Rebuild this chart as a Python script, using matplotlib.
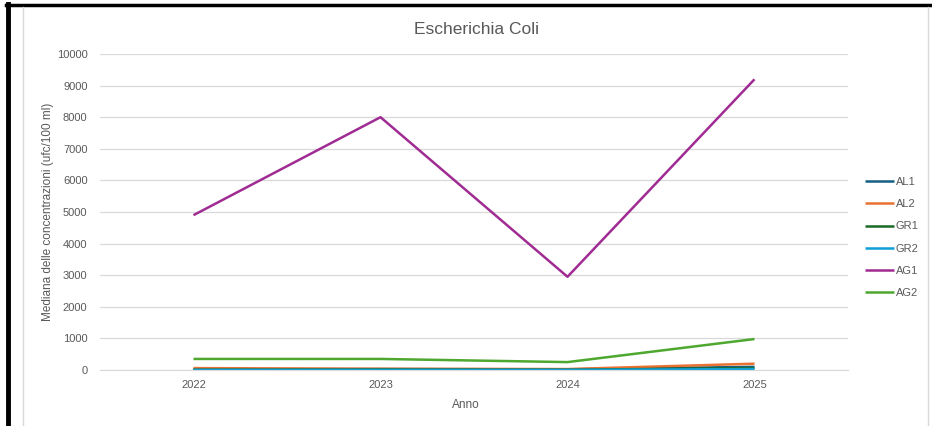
import matplotlib
matplotlib.use("Agg")
import matplotlib.pyplot as plt
from matplotlib.lines import Line2D

years = ["2022", "2023", "2024", "2025"]
series_names = ["AL1", "AL2", "GR1", "GR2", "AG1", "AG2"]
AL1 = [20, 30, 20, 100]
AL2 = [60, 40, 30, 200]
GR1 = [10, 20, 10, 60]
GR2 = [5, 5, 5, 30]
AG1 = [4900, 8000, 2950, 9200]
AG2 = [350, 350, 250, 980]
yticks = [0, 1000, 2000, 3000, 4000, 5000, 6000, 7000, 8000, 9000, 10000]

colors = ["#156082", "#E97132", "#196B24", "#0F9ED5", "#A02B93", "#4EA72E"]
data = [AL1, AL2, GR1, GR2, AG1, AG2]

plt.rcParams['font.family'] = ['Liberation Sans', 'DejaVu Sans']
txt = "#595959"

fig = plt.figure(figsize=(9.32, 4.26), dpi=100)
W, H = 932, 426
ax = fig.add_axes([100 / W, 1 - 370 / H, 748 / W, 316 / H])

x = list(range(len(years)))
handles = []
for name, vals, c in zip(series_names, data, colors):
    ln, = ax.plot(x, vals, color=c, lw=1.8, label=name, solid_capstyle='butt')
    handles.append(ln)

ax.set_xlim(-0.5, 3.5)
ax.set_ylim(0, 10000)
ax.set_xticks(x)
ax.set_xticklabels(years)
ax.set_yticks(yticks)
ax.set_yticklabels([str(v) for v in yticks])
ax.tick_params(axis='both', length=0, colors=txt, labelsize=8)
ax.tick_params(axis='y', pad=9)
ax.tick_params(axis='x', pad=7)
ax.grid(axis='y', color='#D9D9D9', lw=0.9)
ax.set_axisbelow(True)
for s in ['top', 'right', 'left']:
    ax.spines[s].set_visible(False)
ax.spines['bottom'].set_color('#D9D9D9')

fig.text(466 / W, 1 - 405 / H, "Anno", ha='center', va='center', color=txt, fontsize=8.5)
fig.text(48 / W, 1 - 212 / H, "Mediana delle concentrazioni (ufc/100 ml)", ha='center', va='center',
         rotation=90, color=txt, fontsize=8.5)
fig.text(476 / W, 1 - 29 / H, "Escherichia Coli", ha='center', va='center', color=txt, fontsize=12.5)

leg = fig.legend(handles=handles, loc='upper left', bbox_to_anchor=(855 / W, 1 - 167 / H),
                 frameon=False, fontsize=8, handlelength=2.6, handletextpad=0.15,
                 labelspacing=1.1, labelcolor=txt)

# outer frame lines
fig.add_artist(Line2D([8 / W, 8 / W], [0, 1 - 4 / H], color='black', lw=3.5, transform=fig.transFigure))
fig.add_artist(Line2D([6 / W, 1], [1 - 5 / H, 1 - 5 / H], color='black', lw=2.5, transform=fig.transFigure))
fig.add_artist(Line2D([23 / W, 23 / W], [0, 1 - 7 / H], color='#D9D9D9', lw=1, transform=fig.transFigure))
fig.add_artist(Line2D([928 / W, 928 / W], [0, 1 - 7 / H], color='#D9D9D9', lw=1, transform=fig.transFigure))

fig.savefig("out.png", dpi=100)
